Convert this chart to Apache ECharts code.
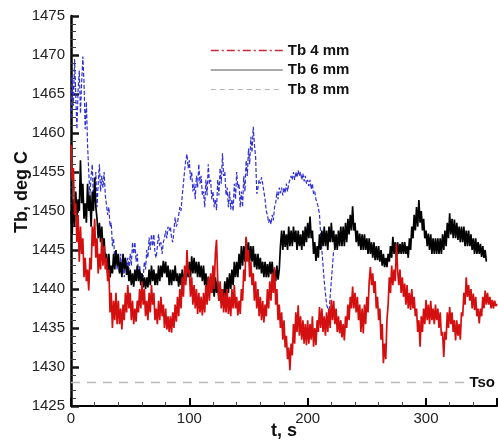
<!DOCTYPE html>
<html><head><meta charset="utf-8">
<script src="https://cdn.jsdelivr.net/npm/echarts@6/dist/echarts.min.js"></script>
<style>html,body{margin:0;padding:0;background:#fff}#c{width:498px;height:443px}</style>
</head><body><div id="c"></div>
<script>
// ---- data ----
const seriesNames = ['Tb 4 mm', 'Tb 6 mm', 'Tb 8 mm'];
const xTickLabels = ['0', '100', '200', '300'];
const yTickLabels = ['1425','1430','1435','1440','1445','1450','1455','1460','1465','1470','1475'];
const xAxisTitle = 't, s';
const yAxisTitle = 'Tb, deg C';
const timeStep = 1; // seconds between samples
const tb4 = [
1458.5,1454.0,1455.5,1449.5,1451.0,1446.0,1449.5,1443.5,1448.0,1444.5,
1446.5,1441.5,1444.0,1441.0,1442.5,1439.8,1444.0,1442.5,1448.0,1445.5,
1449.0,1444.0,1446.5,1442.0,1444.5,1442.5,1446.5,1443.0,1445.5,1442.5,
1444.0,1441.0,1442.5,1437.0,1439.5,1435.0,1438.5,1436.0,1439.5,1435.5,
1438.5,1435.5,1437.5,1434.8,1438.0,1436.0,1439.5,1437.0,1440.5,1437.5,
1439.5,1436.0,1438.5,1435.5,1437.5,1435.8,1438.5,1437.0,1440.0,1437.5,
1441.0,1438.0,1440.0,1436.5,1438.5,1436.0,1439.5,1437.0,1440.5,1438.0,
1439.5,1436.0,1437.5,1435.5,1438.5,1436.0,1439.0,1436.5,1438.0,1435.0,
1437.5,1434.8,1436.5,1434.5,1436.5,1434.4,1437.0,1435.0,1438.0,1435.8,
1439.0,1436.5,1440.0,1437.5,1441.5,1439.0,1443.0,1440.5,1445.0,1442.0,
1442.5,1439.0,1441.5,1438.0,1440.5,1437.5,1440.0,1436.8,1439.5,1437.0,
1439.0,1436.6,1439.5,1437.0,1440.5,1438.0,1441.5,1438.5,1442.0,1439.5,
1443.0,1440.0,1444.5,1446.3,1441.0,1438.5,1441.0,1437.5,1440.0,1437.0,
1439.5,1437.0,1440.0,1436.8,1439.0,1436.5,1440.0,1437.5,1440.5,1437.5,
1439.0,1436.6,1438.5,1436.8,1440.0,1438.5,1442.5,1441.0,1446.7,1443.5,
1445.0,1441.5,1443.5,1440.5,1442.0,1438.5,1441.0,1437.5,1440.0,1436.5,
1439.0,1436.0,1438.5,1435.7,1438.0,1436.5,1440.0,1437.5,1441.0,1438.5,
1442.0,1439.5,1442.8,1438.0,1440.0,1436.0,1438.0,1435.0,1437.0,1433.5,
1436.0,1432.5,1434.0,1431.0,1432.5,1429.6,1433.0,1431.5,1435.5,1433.0,
1437.0,1434.5,1437.9,1434.0,1436.5,1433.5,1436.0,1433.0,1435.5,1432.8,
1436.0,1433.0,1435.5,1433.5,1436.5,1432.6,1435.0,1432.8,1436.0,1434.5,
1437.7,1435.0,1437.5,1434.5,1436.5,1434.0,1437.0,1434.5,1437.5,1435.0,
1438.6,1436.0,1438.5,1435.5,1437.5,1434.5,1436.5,1434.3,1436.0,1433.8,
1435.5,1433.4,1436.5,1435.0,1438.0,1436.0,1439.0,1437.5,1440.3,1437.5,
1439.5,1437.0,1439.0,1436.0,1438.0,1434.5,1437.5,1434.3,1438.0,1435.5,
1439.0,1437.0,1441.0,1442.8,1440.5,1442.0,1439.5,1441.0,1437.5,1439.0,
1436.0,1437.5,1433.5,1435.5,1430.5,1433.0,1431.0,1436.0,1438.0,1441.5,
1439.5,1443.0,1440.5,1442.5,1441.0,1445.8,1442.5,1440.5,1442.5,1439.5,
1441.5,1439.0,1440.7,1438.0,1440.5,1437.5,1439.5,1437.3,1440.0,1437.5,
1439.0,1436.5,1437.5,1434.5,1436.0,1432.6,1436.5,1434.5,1437.5,1435.5,
1438.6,1436.0,1438.0,1435.5,1438.5,1436.0,1437.5,1435.5,1438.0,1436.0,
1437.5,1435.0,1437.0,1434.0,1434.5,1431.3,1434.5,1433.5,1437.0,1435.0,
1437.7,1435.5,1437.0,1434.5,1436.0,1433.4,1436.0,1434.0,1435.5,1433.5,
1437.0,1436.5,1439.5,1438.0,1441.5,1439.0,1440.5,1438.5,1440.0,1437.5,
1439.4,1437.3,1439.0,1436.5,1437.5,1435.6,1437.5,1436.5,1439.0,1437.5,
1439.8,1438.0,1439.5,1438.0,1439.0,1437.5,1438.6,1437.5,1438.5,1437.8,1438.1
];
const tb6 = [
1450.0,1447.0,1451.5,1448.0,1452.5,1449.0,1451.5,1450.0,1456.5,1451.0,
1453.5,1449.0,1451.0,1448.5,1453.5,1450.0,1452.0,1448.0,1452.5,1450.0,
1454.3,1450.5,1449.0,1446.5,1448.5,1446.0,1448.0,1445.3,1446.5,1443.5,
1444.5,1442.0,1444.5,1441.5,1443.0,1442.0,1444.5,1442.5,1445.0,1443.0,
1444.5,1442.0,1443.5,1441.5,1444.5,1442.5,1444.0,1441.8,1443.0,1441.0,
1442.5,1440.5,1442.0,1440.3,1442.5,1441.0,1443.0,1441.0,1442.5,1440.5,
1442.0,1440.2,1441.5,1440.0,1441.5,1440.2,1442.5,1440.5,1443.0,1441.0,
1442.5,1440.5,1442.0,1440.5,1443.0,1441.0,1443.0,1441.5,1443.6,1442.0,
1443.5,1441.5,1443.0,1440.5,1442.5,1440.5,1442.5,1441.0,1443.0,1441.0,
1442.0,1440.3,1442.0,1440.5,1442.5,1440.5,1442.0,1441.0,1443.0,1441.5,
1443.5,1441.5,1444.2,1442.0,1444.0,1442.0,1443.5,1441.5,1443.5,1441.5,
1443.0,1441.0,1443.0,1440.5,1442.0,1440.0,1441.6,1439.5,1441.5,1439.5,
1441.0,1439.0,1441.5,1439.5,1441.0,1438.5,1440.5,1438.2,1440.0,1438.5,
1441.0,1439.0,1441.5,1439.5,1442.0,1440.0,1442.5,1440.5,1443.5,1441.5,
1443.5,1441.5,1444.5,1442.5,1445.5,1443.0,1445.5,1443.5,1446.5,1444.0,
1446.0,1443.5,1445.5,1443.5,1445.5,1442.8,1444.5,1442.5,1444.5,1442.5,
1444.0,1442.0,1443.5,1441.5,1443.5,1441.5,1443.2,1441.5,1443.5,1441.9,
1443.5,1441.5,1442.5,1441.0,1443.0,1441.2,1442.5,1445.5,1447.5,1445.0,
1447.5,1445.4,1447.0,1445.0,1448.0,1445.5,1447.5,1445.5,1448.0,1446.0,
1447.5,1445.0,1447.5,1445.5,1447.0,1445.0,1447.5,1445.5,1448.0,1446.0,
1448.5,1446.5,1449.3,1446.5,1447.5,1444.5,1446.0,1443.6,1445.5,1444.0,
1447.0,1445.0,1447.5,1445.5,1448.0,1445.5,1447.5,1445.0,1448.0,1446.0,
1448.5,1446.0,1447.5,1445.0,1447.0,1445.0,1447.5,1445.5,1448.0,1445.5,
1448.0,1445.5,1448.5,1446.0,1449.0,1447.0,1449.5,1447.5,1450.6,1447.5,
1448.5,1446.0,1447.5,1445.5,1447.1,1445.0,1447.0,1445.0,1447.0,1445.0,
1446.5,1444.5,1446.5,1444.5,1446.0,1444.0,1446.0,1443.7,1445.5,1443.7,
1445.5,1443.5,1445.0,1443.0,1444.5,1442.8,1444.0,1442.8,1444.5,1443.5,
1445.5,1444.0,1446.7,1444.5,1446.0,1444.0,1446.0,1444.5,1445.8,1444.5,
1446.0,1444.5,1446.0,1444.5,1445.5,1444.0,1446.5,1445.0,1448.0,1446.5,
1449.5,1447.5,1450.5,1448.0,1451.4,1448.5,1450.0,1447.5,1449.0,1446.5,
1447.5,1445.5,1447.1,1445.0,1447.0,1444.5,1446.5,1444.5,1446.5,1444.5,
1446.5,1444.5,1446.5,1444.5,1447.0,1445.0,1447.5,1445.5,1448.5,1446.5,
1449.7,1447.0,1449.0,1446.5,1448.9,1446.5,1448.5,1446.3,1448.0,1446.0,
1448.0,1446.0,1448.0,1445.5,1447.5,1445.5,1447.5,1445.5,1447.0,1445.0,
1446.5,1444.5,1446.5,1444.5,1446.0,1444.5,1445.8,1444.1,1445.5,1444.0,
1445.0,1443.5
];
const tb8 = [
1462.0,1467.5,1463.5,1469.5,1465.0,1460.5,1465.5,1468.0,1462.5,1466.5,
1469.8,1466.5,1460.5,1464.0,1458.5,1455.0,1452.0,1454.5,1456.0,1451.0,
1453.0,1455.0,1450.5,1453.5,1456.0,1452.5,1454.5,1453.0,1455.0,1452.0,
1452.0,1449.5,1450.5,1448.0,1448.5,1445.5,1446.5,1443.5,1444.5,1442.5,
1443.5,1442.0,1444.5,1441.8,1443.0,1441.5,1444.0,1442.5,1444.0,1442.5,
1444.5,1443.0,1446.0,1444.5,1446.0,1443.5,1444.5,1442.0,1443.0,1441.5,
1442.0,1441.5,1443.5,1442.5,1445.0,1444.0,1446.6,1445.0,1447.0,1445.5,
1447.0,1444.5,1444.0,1445.5,1447.0,1445.5,1446.0,1444.5,1446.0,1446.5,
1447.5,1446.5,1448.0,1447.5,1448.0,1446.5,1446.0,1447.5,1449.2,1448.0,
1448.5,1449.5,1450.5,1450.0,1452.0,1453.5,1455.2,1456.5,1457.3,1455.5,
1456.5,1454.0,1455.0,1452.5,1453.5,1451.5,1454.5,1453.0,1456.0,1453.5,
1454.5,1452.0,1452.5,1450.5,1454.0,1452.0,1456.0,1453.5,1454.0,1451.5,
1452.5,1450.5,1451.5,1450.1,1454.0,1452.0,1455.5,1453.5,1457.4,1454.5,
1455.0,1452.0,1453.0,1450.5,1452.5,1450.2,1451.5,1450.0,1453.5,1451.5,
1455.0,1453.0,1453.5,1450.5,1452.5,1450.5,1454.5,1452.5,1456.5,1454.5,
1458.0,1456.0,1459.5,1457.5,1460.8,1458.5,1457.0,1452.2,1453.0,1454.0,
1453.5,1454.3,1453.5,1452.5,1451.5,1450.0,1449.5,1448.5,1449.0,1448.3,
1449.5,1448.8,1450.5,1451.0,1452.5,1451.5,1453.0,1452.3,1453.0,1452.0,
1453.0,1452.3,1453.5,1452.5,1453.5,1453.5,1454.5,1454.0,1455.0,1454.0,
1455.0,1454.3,1455.2,1454.5,1455.0,1454.0,1454.8,1453.8,1454.5,1453.5,
1454.0,1453.2,1454.0,1452.8,1453.5,1452.2,1452.5,1451.5,1451.4,1450.5,
1449.5,1447.0,1445.0,1443.0,1441.0,1439.5,1438.0,1437.5,1436.9,1439.0,
1441.0,1443.0,1445.0
];
const tsoLevel = 1428;
const tsoSpan = [0, 335];
const tsoLabel = 'Tso';

// ---- build ----
const toPairs = arr => arr.map((v, i) => [i * timeStep, v]);
const FONT = "'Liberation Sans', Arial, Helvetica, sans-serif";
const chart = echarts.init(document.getElementById('c'));
chart.setOption({
  animation: false,
  backgroundColor: '#fff',
  grid: {left: 71, right: 1, top: 16, bottom: 37, outerBoundsMode: 'none'},
  legend: {
    orient: 'vertical', left: 205, top: 38,
    itemWidth: 72, itemHeight: 14, itemGap: 4.5,
    itemStyle: {opacity: 0},
    textStyle: {fontFamily: FONT, fontWeight: 'bold', fontSize: 15, color: '#111', lineHeight: 14},
    data: [
      {name: seriesNames[0], lineStyle: {color: '#c8283a', width: 1.5, type: [8, 3, 2, 3]}},
      {name: seriesNames[1], lineStyle: {color: '#555', width: 1, type: 'solid'}},
      {name: seriesNames[2], lineStyle: {color: '#b4b4b4', width: 1.2, type: [5, 4]}}
    ]
  },
  xAxis: {
    type: 'value', min: 0, max: 360, interval: 100,
    axisLine: {show: true, onZero: false, lineStyle: {color: '#000', width: 2}},
    axisTick: {show: true, inside: true, length: 8, lineStyle: {color: '#000', width: 2}},
    minorTick: {show: true, splitNumber: 5, length: 4, lineStyle: {color: '#444', width: 1}},
    axisLabel: {fontFamily: FONT, fontSize: 15, color: '#222', margin: 5, showMaxLabel: false,
      formatter: v => xTickLabels[v / 100] !== undefined ? xTickLabels[v / 100] : ''},
    splitLine: {show: false}
  },
  yAxis: {
    type: 'value', min: 1425, max: 1475, interval: 5,
    axisLine: {show: true, onZero: false, lineStyle: {color: '#000', width: 2.5}},
    axisTick: {show: true, inside: true, length: 8, lineStyle: {color: '#141414', width: 2.5}},
    minorTick: {show: true, splitNumber: 5, length: 5, lineStyle: {color: '#3c3c3c', width: 1}},
    axisLabel: {fontFamily: FONT, fontSize: 15, color: '#222', margin: 6,
      formatter: v => { const i = Math.round((v - 1425) / 5); return yTickLabels[i] || ''; }},
    splitLine: {show: false}
  },
  graphic: [
    {type: 'text', x: 22, y: 192, rotation: Math.PI / 2,
     style: {text: yAxisTitle, font: "bold 18px " + FONT, fill: '#111', textAlign: 'center', textVerticalAlign: 'middle'}},
    {type: 'text', x: 284, y: 431,
     style: {text: xAxisTitle, font: "bold 18px " + FONT, fill: '#111', textAlign: 'center', textVerticalAlign: 'middle'}}
  ],
  series: [
    {name: 'Tso', type: 'line', data: [[tsoSpan[0], tsoLevel], [tsoSpan[1], tsoLevel]],
     symbol: 'none', silent: true,
     lineStyle: {color: '#b8b8b8', width: 1.5, type: [9, 7]},
     endLabel: {show: true, formatter: tsoLabel, distance: 2,
       fontFamily: FONT, fontWeight: 'bold', fontSize: 15, color: '#111'}},
    {name: seriesNames[2], type: 'line', data: toPairs(tb8), symbol: 'none',
     lineStyle: {color: '#3030d4', width: 1.2, type: [4, 2]}},
    {name: seriesNames[1], type: 'line', data: toPairs(tb6), symbol: 'none',
     lineStyle: {color: '#000', width: 1.7}},
    {name: seriesNames[0], type: 'line', data: toPairs(tb4), symbol: 'none',
     lineStyle: {color: '#d40f0f', width: 1.7}}
  ]
});
</script></body></html>
